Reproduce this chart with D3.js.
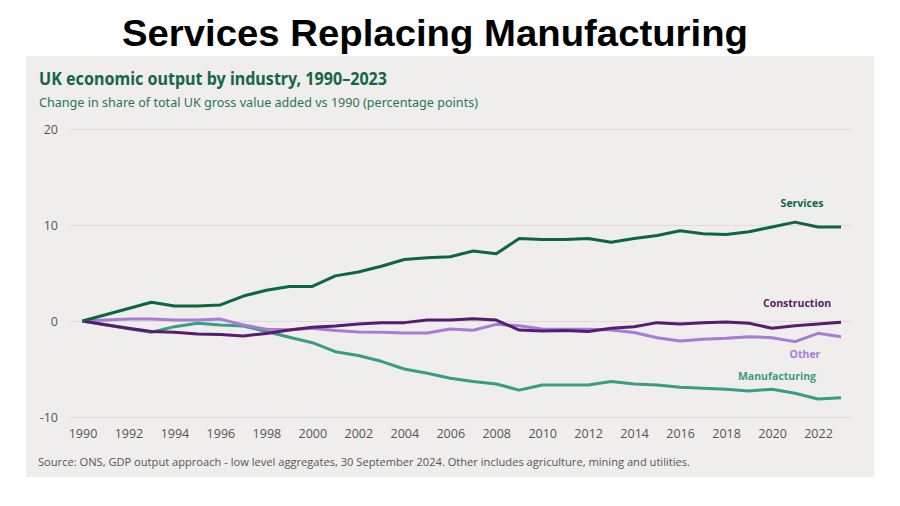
<!DOCTYPE html>
<html>
<head>
<meta charset="utf-8">
<script src="https://cdn.jsdelivr.net/npm/d3@7"></script>
<style>
  body { margin: 0; background: #fff; }
  svg { display: block; }
</style>
</head>
<body>
<svg width="900" height="506"></svg>
<script>
// change in share of UK GVA vs 1990, percentage points
const years = d3.range(1990, 2024);

const services = [0, 0.65, 1.3, 1.95, 1.56, 1.56, 1.67, 2.6, 3.2, 3.6, 3.6, 4.7, 5.1,
  5.7, 6.4, 6.6, 6.7, 7.3, 7.0, 8.6, 8.5, 8.5, 8.6, 8.2, 8.6,
  8.9, 9.4, 9.1, 9.0, 9.3, 9.8, 10.3, 9.8, 9.8];

const construction = [0, -0.4, -0.75, -1.1, -1.18, -1.35, -1.4, -1.56, -1.3, -0.94, -0.66, -0.52, -0.31,
  -0.17, -0.17, 0.1, 0.1, 0.24, 0.1, -0.94, -1.04, -1.0, -1.1, -0.76, -0.59,
  -0.17, -0.31, -0.17, -0.1, -0.24, -0.76, -0.49, -0.31, -0.14];

const other = [0, 0.1, 0.2, 0.2, 0.1, 0.1, 0.2, -0.42, -0.85, -0.9, -0.76, -1.0, -1.15,
  -1.18, -1.25, -1.25, -0.83, -0.97, -0.35, -0.49, -0.83, -0.87, -0.87, -0.94, -1.2,
  -1.74, -2.08, -1.9, -1.8, -1.63, -1.74, -2.15, -1.28, -1.63];

const manufacturing = [0, -0.4, -0.8, -1.18, -0.59, -0.24, -0.42, -0.52, -1.1, -1.7, -2.26, -3.2, -3.6,
  -4.2, -5.0, -5.45, -5.97, -6.3, -6.56, -7.2, -6.67, -6.67, -6.67, -6.3, -6.56,
  -6.67, -6.9, -7.0, -7.1, -7.29, -7.1, -7.53, -8.13, -8.0];

const yTicks = [-10, 0, 10, 20];
const xTicks = d3.range(1990, 2023, 2);

const series = [
  {name: 'Manufacturing', values: manufacturing, color: '#3a9c84', lx: 777, ly: 380},
  {name: 'Other', values: other, color: '#a67dd4', lx: 805, ly: 358},
  {name: 'Construction', values: construction, color: '#581c6e', lx: 797, ly: 307},
  {name: 'Services', values: services, color: '#0c6644', lx: 802, ly: 207}
];

let svg = d3.select('svg');

// page title
svg.append('text')
  .attr('x', 122).attr('y', 46)
  .attr('textLength', 626).attr('lengthAdjust', 'spacingAndGlyphs')
  .style('font-family', 'Liberation Sans, Arial, sans-serif')
  .style('font-weight', 'bold')
  .style('font-size', '37px')
  .attr('fill', '#000')
  .text('Services Replacing Manufacturing');

// chart panel
svg.append('rect')
  .attr('x', 26).attr('y', 56)
  .attr('width', 848).attr('height', 421)
  .attr('fill', '#efeeec');

svg.append('text')
  .attr('x', 39).attr('y', 85)
  .attr('textLength', 348).attr('lengthAdjust', 'spacingAndGlyphs')
  .style('font-family', 'Noto Sans, sans-serif')
  .style('font-weight', 'bold')
  .style('font-size', '17px')
  .attr('fill', '#176545')
  .text('UK economic output by industry, 1990\u20132023');

svg.append('text')
  .attr('x', 39).attr('y', 107)
  .attr('textLength', 439).attr('lengthAdjust', 'spacingAndGlyphs')
  .style('font-family', 'Noto Sans, sans-serif')
  .style('font-size', '13px')
  .attr('fill', '#2a7555')
  .text('Change in share of total UK gross value added vs 1990 (percentage points)');

let x = d3.scaleLinear()
  .domain([1990, 2023])
  .range([82.5, 841]);

let y = d3.scaleLinear()
  .domain([-10, 20])
  .range([417, 129]);

let gy = svg.append('g')
  .attr('transform', 'translate(70,0)')
  .call(d3.axisLeft(y).tickValues(yTicks).tickFormat(d => String(d)).tickSize(-782).tickPadding(12));
gy.select('.domain').remove();
gy.selectAll('.tick line').attr('stroke', '#dcdcdc');
gy.selectAll('.tick text')
  .attr('fill', '#555')
  .style('font-family', 'Open Sans, sans-serif')
  .style('font-size', '12.5px');

let gx = svg.append('g')
  .attr('transform', 'translate(0,417)')
  .call(d3.axisBottom(x).tickValues(xTicks).tickFormat(d3.format('d')).tickSize(0).tickPadding(12));
gx.select('.domain').remove();
gx.selectAll('.tick text')
  .attr('fill', '#555')
  .style('font-family', 'Open Sans, sans-serif')
  .style('font-size', '12.5px');

let line = d3.line()
  .x((d, i) => x(years[i]))
  .y(d => y(d));

svg.append('g').selectAll('path')
  .data(series)
  .join('path')
  .attr('d', d => line(d.values))
  .attr('fill', 'none')
  .attr('stroke', d => d.color)
  .attr('stroke-width', 3)
  .attr('stroke-linejoin', 'round');

svg.append('g').selectAll('text')
  .data(series)
  .join('text')
  .attr('x', d => d.lx)
  .attr('y', d => d.ly)
  .attr('text-anchor', 'middle')
  .attr('fill', d => d.color)
  .style('font-family', 'Open Sans, sans-serif')
  .style('font-weight', 'bold')
  .style('font-size', '10.5px')
  .text(d => d.name);

svg.append('text')
  .attr('x', 38).attr('y', 466)
  .attr('textLength', 652).attr('lengthAdjust', 'spacingAndGlyphs')
  .style('font-family', 'Open Sans, sans-serif')
  .style('font-size', '11.5px')
  .attr('fill', '#555')
  .text('Source:  ONS, GDP output approach - low level aggregates, 30 September 2024. Other includes agriculture, mining and utilities.');
</script>
</body>
</html>
